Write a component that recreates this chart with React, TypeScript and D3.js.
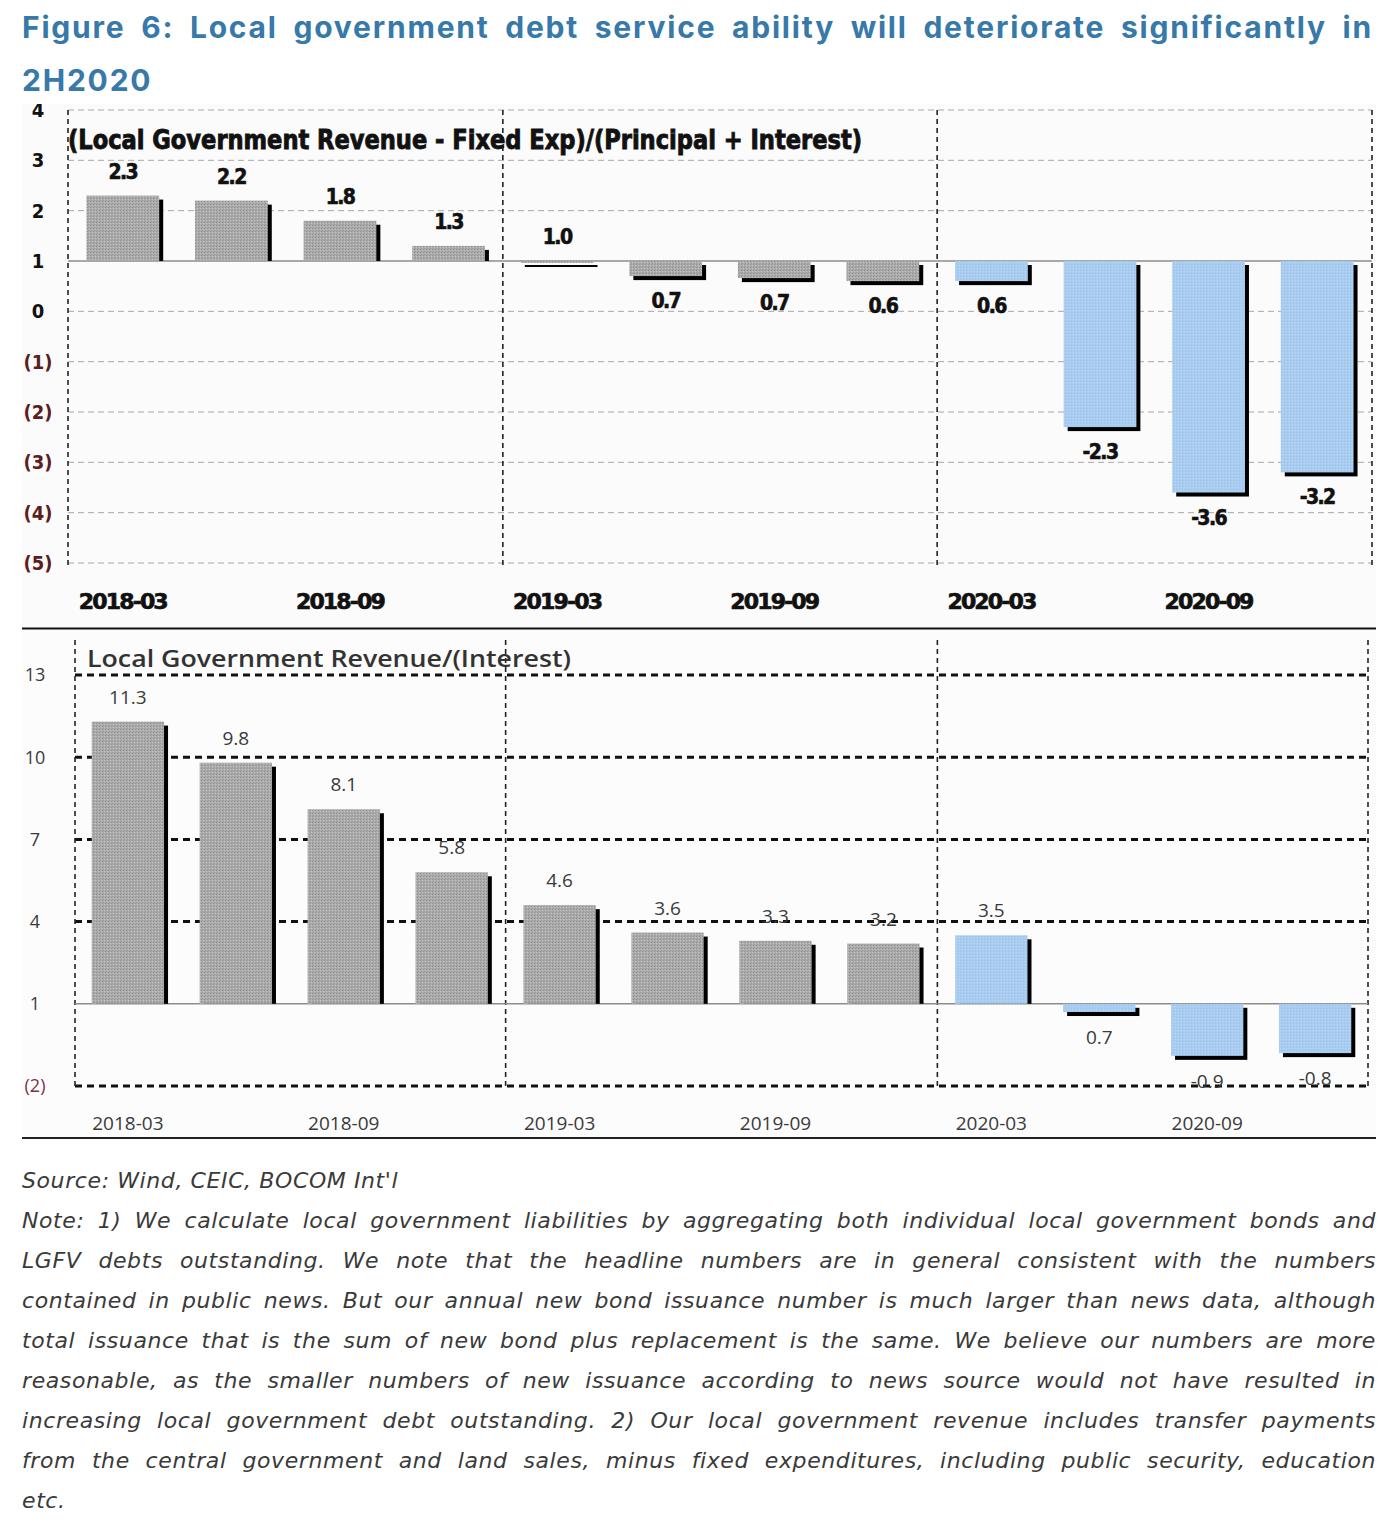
import { useEffect, useRef } from "react";
import * as d3 from "d3";

// quarters shown on both panels
const quarters = [
  "2018-03", "2018-06", "2018-09", "2018-12",
  "2019-03", "2019-06", "2019-09", "2019-12",
  "2020-03", "2020-06", "2020-09", "2020-12",
];
const shownQuarters = ["2018-03", "2018-09", "2019-03", "2019-09", "2020-03", "2020-09"];
const dividerAfter = ["2018-12", "2019-12"];
const forecastStart = "2020-03";

// (Local Government Revenue - Fixed Exp)/(Principal + Interest)
const coverageRatio = [2.3, 2.2, 1.8, 1.3, 0.96, 0.7, 0.66, 0.6, 0.6, -2.3, -3.6, -3.2];
const coverageTicks = [4, 3, 2, 1, 0, -1, -2, -3, -4, -5];

// Local Government Revenue/(Interest)
const revenueToInterest = [11.3, 9.8, 8.1, 5.8, 4.6, 3.6, 3.3, 3.2, 3.5, 0.7, -0.9, -0.8];
const interestTicks = [13, 10, 7, 4, 1, -2];

const figureTitle = [
  "Figure 6: Local government debt service ability will deteriorate significantly in",
  "2H2020",
];
const sourceLine = "Source: Wind, CEIC, BOCOM Int'l";
const noteLines = [
  "Note: 1) We calculate local government liabilities by aggregating both individual local government bonds and",
  "LGFV debts outstanding. We note that the headline numbers are in general consistent with the numbers",
  "contained in public news. But our annual new bond issuance number is much larger than news data, although",
  "total issuance that is the sum of new bond plus replacement is the same. We believe our numbers are more",
  "reasonable, as the smaller numbers of new issuance according to news source would not have resulted in",
  "increasing local government debt outstanding. 2) Our local government revenue includes transfer payments",
  "from the central government and land sales, minus fixed expenditures, including public security, education",
  "etc.",
];

const tickLabel = (v: number) => (v < 0 ? `(${-v})` : `${v}`);

interface PanelConfig {
  values: number[];
  xRange: [number, number];
  outer: number;
  yDomain: [number, number];
  yRange: [number, number];
  ticks: number[];
  baseline: number;
  gridColor: string;
  gridWidth: number;
  gridDash: string;
  vTop: number;
  vBottom: number;
  font: string;
  bold: boolean;
  heavy: number;
  textColor: string;
  labelSize: number;
  labelSpacing: number;
  labelAbove: number;
  labelBelow: number;
  tickX: number;
  tickSize: number;
  xLabelY: number;
  xLabelSize: number;
  xLabelLength: number | null;
  title: string;
  titleX: number;
  titleY: number;
  titleSize: number;
  titleLength: number;
  titleWeight: string;
  titleColor: string;
  negColor: string;
}

function drawPanel(root: d3.Selection<SVGGElement, unknown, null, undefined>, cfg: PanelConfig) {
  const x = d3
    .scaleBand<string>()
    .domain(quarters)
    .range(cfg.xRange)
    .paddingInner(0.33)
    .paddingOuter(cfg.outer);
  const y = d3.scaleLinear().domain(cfg.yDomain).range(cfg.yRange);
  const [x0, x1] = cfg.xRange;
  const bw = x.bandwidth();
  const gap = x.step() * x.paddingInner();
  const weight = cfg.bold ? "bold" : "normal";

  const g = root.append("g");

  // horizontal grid
  g.selectAll("line.grid")
    .data(cfg.ticks.filter((t) => t !== cfg.baseline))
    .join("line")
    .attr("class", "grid")
    .attr("x1", x0)
    .attr("x2", x1)
    .attr("y1", (d) => y(d))
    .attr("y2", (d) => y(d))
    .attr("stroke", cfg.gridColor)
    .attr("stroke-width", cfg.gridWidth)
    .attr("stroke-dasharray", cfg.gridDash);

  // vertical dividers (year boundaries)
  const dividers = [x0, ...dividerAfter.map((q) => (x(q) || 0) + bw + gap / 2), x1];
  g.selectAll("line.vdiv")
    .data(dividers)
    .join("line")
    .attr("class", "vdiv")
    .attr("x1", (d) => d)
    .attr("x2", (d) => d)
    .attr("y1", cfg.vTop)
    .attr("y2", cfg.vBottom)
    .attr("stroke", "#222")
    .attr("stroke-width", 1.6)
    .attr("stroke-dasharray", "5 4");

  // baseline
  g.append("line")
    .attr("x1", x0)
    .attr("x2", x1)
    .attr("y1", y(cfg.baseline))
    .attr("y2", y(cfg.baseline))
    .attr("stroke", "#8c8c8c")
    .attr("stroke-width", 1.5);

  const fIdx = quarters.indexOf(forecastStart);
  const data = quarters.map((q, i) => ({ q, v: cfg.values[i], forecast: i >= fIdx }));
  const label = (v: number) => v.toFixed(1);

  const bars = g.selectAll("g.bar").data(data).join("g").attr("class", "bar");

  // black drop shadow
  bars
    .append("rect")
    .attr("x", (d) => (x(d.q) || 0) + 4)
    .attr("y", (d) => y(Math.max(d.v, cfg.baseline)) + 4)
    .attr("width", bw)
    .attr("height", (d) => {
      const h = Math.abs(y(d.v) - y(cfg.baseline));
      return d.v >= cfg.baseline ? Math.max(0, h - 4) : h;
    })
    .attr("fill", "#000");

  bars
    .append("rect")
    .attr("x", (d) => x(d.q) || 0)
    .attr("y", (d) => y(Math.max(d.v, cfg.baseline)))
    .attr("width", bw)
    .attr("height", (d) => Math.abs(y(d.v) - y(cfg.baseline)))
    .attr("fill", (d) => (d.forecast ? "url(#blueTex)" : "url(#grayTex)"));

  bars
    .append("text")
    .attr("x", (d) => (x(d.q) || 0) + bw / 2)
    .attr("y", (d) =>
      +label(d.v) >= cfg.baseline
        ? y(Math.max(d.v, cfg.baseline)) - cfg.labelAbove
        : y(d.v) + cfg.labelBelow
    )
    .attr("text-anchor", "middle")
    .attr("font-family", cfg.font)
    .attr("font-weight", weight)
    .attr("font-size", cfg.labelSize)
    .attr("letter-spacing", cfg.labelSpacing)
    .attr("fill", cfg.textColor)
    .attr("stroke", cfg.heavy ? cfg.textColor : "none")
    .attr("stroke-width", cfg.heavy)
    .text((d) => label(d.v));

  // y tick labels
  g.selectAll("text.ytick")
    .data(cfg.ticks)
    .join("text")
    .attr("class", "ytick")
    .attr("x", cfg.tickX)
    .attr("y", (d) => y(d))
    .attr("dy", "0.35em")
    .attr("text-anchor", "middle")
    .attr("font-family", cfg.font)
    .attr("font-weight", weight)
    .attr("font-size", cfg.tickSize)
    .attr("fill", (d) => (d < 0 ? cfg.negColor : cfg.textColor))
    .text((d) => tickLabel(d));

  // x tick labels
  const xl = g
    .selectAll("text.xtick")
    .data(shownQuarters)
    .join("text")
    .attr("class", "xtick")
    .attr("x", (d) => (x(d) || 0) + bw / 2)
    .attr("y", cfg.xLabelY)
    .attr("text-anchor", "middle")
    .attr("font-family", cfg.font)
    .attr("font-weight", weight)
    .attr("font-size", cfg.xLabelSize)
    .attr("letter-spacing", cfg.labelSpacing)
    .attr("fill", cfg.textColor)
    .attr("stroke", cfg.heavy ? cfg.textColor : "none")
    .attr("stroke-width", cfg.heavy)
    .text((d) => d);
  if (cfg.xLabelLength) {
    xl.attr("textLength", cfg.xLabelLength).attr("lengthAdjust", "spacingAndGlyphs");
  }

  // panel title
  g.append("text")
    .attr("x", cfg.titleX)
    .attr("y", cfg.titleY)
    .attr("font-family", cfg.font)
    .attr("font-weight", cfg.titleWeight)
    .attr("font-size", cfg.titleSize)
    .attr("textLength", cfg.titleLength)
    .attr("lengthAdjust", "spacingAndGlyphs")
    .attr("fill", cfg.titleColor)
    .attr("stroke", cfg.heavy ? cfg.titleColor : "none")
    .attr("stroke-width", cfg.heavy * 1.4)
    .text(cfg.title);
}

// place words of one line so it spans [left, right]
function justify(
  parent: d3.Selection<SVGGElement, unknown, null, undefined>,
  line: string,
  left: number,
  right: number,
  yPos: number,
  style: (t: d3.Selection<SVGTextElement, unknown, null, undefined>) => void
) {
  const words = line.split(" ");
  const nodes = words.map((w) => {
    const t = parent.append("text").attr("y", yPos).text(w);
    style(t);
    return t;
  });
  const widths = nodes.map((t) => (t.node() as SVGTextElement).getComputedTextLength());
  const total = d3.sum(widths);
  const space = words.length > 1 ? (right - left - total) / (words.length - 1) : 0;
  let cx = left;
  nodes.forEach((t, i) => {
    t.attr("x", cx);
    cx += widths[i] + space;
  });
}

export default function App() {
  const svgRef = useRef<SVGSVGElement>(null);

  useEffect(() => {
    const draw = () => {
      const svg = d3.select(svgRef.current);
      svg.selectAll("*").remove();

      const defs = svg.append("defs");
      const gray = defs
        .append("pattern")
        .attr("id", "grayTex")
        .attr("width", 3)
        .attr("height", 3)
        .attr("patternUnits", "userSpaceOnUse");
      gray.append("rect").attr("width", 3).attr("height", 3).attr("fill", "#ababab");
      gray.append("rect").attr("width", 1).attr("height", 1).attr("fill", "#8f8f8f");
      gray.append("rect").attr("x", 2).attr("y", 1).attr("width", 1).attr("height", 1).attr("fill", "#c4c4c4");
      gray.append("rect").attr("x", 1).attr("y", 2).attr("width", 1).attr("height", 1).attr("fill", "#9b9b9b");

      const blue = defs
        .append("pattern")
        .attr("id", "blueTex")
        .attr("width", 3)
        .attr("height", 3)
        .attr("patternUnits", "userSpaceOnUse");
      blue.append("rect").attr("width", 3).attr("height", 3).attr("fill", "#a9cdf1");
      blue.append("rect").attr("width", 1).attr("height", 1).attr("fill", "#9bc0e6");
      blue.append("rect").attr("x", 2).attr("y", 1).attr("width", 1).attr("height", 1).attr("fill", "#b8d6f4");

      defs
        .append("clipPath")
        .attr("id", "topClip")
        .append("rect")
        .attr("x", 0)
        .attr("y", 104)
        .attr("width", 1398)
        .attr("height", 524);

      const root = svg.append("g").attr("transform", "translate(-8,-8)");

      // figure title
      const titleStyle = (t: d3.Selection<SVGTextElement, unknown, null, undefined>) =>
        t
          .attr("font-family", "Inter, 'Noto Sans', sans-serif")
          .attr("font-weight", "bold")
          .attr("font-size", 30)
          .attr("letter-spacing", 1.8)
          .attr("fill", "#3779a9");
      const titleG = root.append("g");
      justify(titleG, figureTitle[0], 22, 1373, 38, titleStyle);
      titleStyle(titleG.append("text").attr("x", 22).attr("y", 91).text(figureTitle[1]));

      // panel backgrounds
      root.append("rect").attr("x", 22).attr("y", 104).attr("width", 1354).attr("height", 524).attr("fill", "#fbfbfb");
      root.append("rect").attr("x", 22).attr("y", 630).attr("width", 1354).attr("height", 508).attr("fill", "#fcfcfc");

      const topG = root.append("g").attr("clip-path", "url(#topClip)");
      drawPanel(topG, {
        values: coverageRatio,
        xRange: [68, 1372],
        outer: 0.17,
        yDomain: [-5, 4],
        yRange: [563, 110],
        ticks: coverageTicks,
        baseline: 1,
        gridColor: "#a8a8a8",
        gridWidth: 1,
        gridDash: "6 4",
        vTop: 110,
        vBottom: 565,
        font: "'DejaVu Sans Condensed', 'DejaVu Sans', sans-serif",
        bold: true,
        heavy: 0.6,
        textColor: "#111",
        labelSize: 21,
        labelSpacing: -1.6,
        labelAbove: 17,
        labelBelow: 32,
        tickX: 38,
        tickSize: 20,
        xLabelY: 609,
        xLabelSize: 21,
        xLabelLength: 88,
        title: "(Local Government Revenue - Fixed Exp)/(Principal + Interest)",
        titleX: 68,
        titleY: 149,
        titleSize: 26,
        titleLength: 794,
        titleWeight: "bold",
        titleColor: "#111",
        negColor: "#5a1e1e",
      });

      drawPanel(root, {
        values: revenueToInterest,
        xRange: [75, 1368],
        outer: 0.155,
        yDomain: [-2, 13],
        yRange: [1086, 675],
        ticks: interestTicks,
        baseline: 1,
        gridColor: "#111",
        gridWidth: 3,
        gridDash: "7 5",
        vTop: 640,
        vBottom: 1086,
        font: "'Open Sans', 'Noto Sans', sans-serif",
        bold: false,
        heavy: 0,
        textColor: "#3a3a3a",
        labelSize: 19,
        labelSpacing: 0,
        labelAbove: 18,
        labelBelow: 32,
        tickX: 35,
        tickSize: 18,
        xLabelY: 1130,
        xLabelSize: 19,
        xLabelLength: null,
        title: "Local Government Revenue/(Interest)",
        titleX: 87,
        titleY: 667,
        titleSize: 24,
        titleLength: 484,
        titleWeight: "600",
        titleColor: "#333",
        negColor: "#7a3446",
      });

      // separators
      root.append("line").attr("x1", 22).attr("x2", 1376).attr("y1", 628.5).attr("y2", 628.5).attr("stroke", "#111").attr("stroke-width", 2);
      root.append("line").attr("x1", 22).attr("x2", 1376).attr("y1", 1138).attr("y2", 1138).attr("stroke", "#222").attr("stroke-width", 2);

      // source and notes
      const noteStyle = (t: d3.Selection<SVGTextElement, unknown, null, undefined>) =>
        t
          .attr("font-family", "'DejaVu Sans', sans-serif")
          .attr("font-style", "italic")
          .attr("font-size", 22)
          .attr("letter-spacing", 0.6)
          .attr("fill", "#3a3a3a");
      const noteG = root.append("g");
      noteStyle(noteG.append("text").attr("x", 22).attr("y", 1188).text(sourceLine));
      noteLines.forEach((line, i) => {
        const yPos = 1228 + i * 40;
        if (i === noteLines.length - 1) {
          noteStyle(noteG.append("text").attr("x", 22).attr("y", yPos).text(line));
        } else {
          justify(noteG, line, 22, 1376, yPos, noteStyle);
        }
      });
    };

    draw();
    if (document.fonts && document.fonts.ready) {
      document.fonts.ready.then(draw);
    }
  }, []);

  return <svg ref={svgRef} width={1390} height={1530} style={{ display: "block" }} />;
}
